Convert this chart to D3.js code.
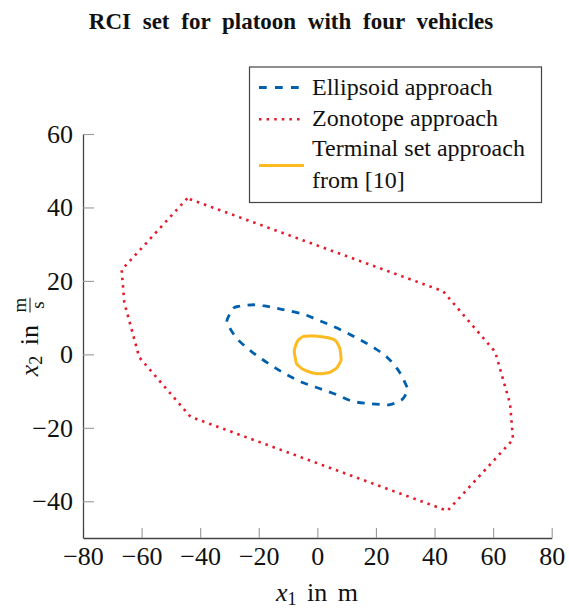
<!DOCTYPE html>
<html>
<head>
<meta charset="utf-8">
<script src="https://cdn.jsdelivr.net/npm/d3@7"></script>
<style>
body { margin: 0; background: #fff; }
</style>
</head>
<body>
<svg id="chart"></svg>
<script>
// values, in (x1 [m], x2 [m/s])
var xTicks = [-80, -60, -40, -20, 0, 20, 40, 60, 80];
var yTicks = [-40, -20, 0, 20, 40, 60];

var zonotopeSet = [
  [-44.4, 42.5], [-66.8, 23.0], [-65.9, 14.1], [-60.8, -0.8], [-43.3, -17.0],
  [44.4, -42.6], [66.8, -23.2], [65.8, -13.5], [60.7, 0.7], [42.9, 17.2]
];

var ellipsoidSet = [
  [-30.9, 9.1], [-28.7, 12.5], [-26.6, 13.1], [-24.1, 13.4], [-21.3, 13.5],
  [-18.7, 13.3], [-16.2, 12.9], [-13.7, 12.5], [-10.3, 12.0], [-5.0, 11.0],
  [-0.2, 9.5], [4.6, 7.9], [9.5, 6.1], [14.3, 4.1], [19.1, 1.9],
  [23.7, -0.7], [27.6, -4.3], [30.2, -8.2], [30.7, -9.8], [29.3, -12.0],
  [27.6, -12.9], [24.8, -13.7], [22.8, -13.7], [17.4, -13.4], [11.7, -12.7],
  [6.0, -10.8], [0.7, -9.3], [-4.6, -7.8], [-9.6, -5.9], [-14.1, -3.8],
  [-18.7, -1.4], [-23.0, 1.1], [-27.0, 3.9], [-28.9, 5.9], [-30.1, 7.5]
];

var terminalSet = [
  [-6.5, 3.9], [-4.8, 4.9], [-0.8, 5.0], [3.7, 4.5], [6.3, 3.7],
  [7.7, 1.6], [8.1, -1.6], [6.6, -3.7], [4.3, -4.9], [0.9, -5.3],
  [-1.9, -5.0], [-5.1, -4.0], [-7.1, -2.5], [-7.9, 0.7], [-7.4, 2.5]
];

var legendLabels = [["Ellipsoid approach"], ["Zonotope approach"], ["Terminal set approach", "from [10]"]];

var font = "Liberation Serif";

var drawChart = function()
{
  var screen = { width: 569, height: 612 };
  var plot = { left: 83, right: 551.7, top: 134, bottom: 538 };

  var colors = { ellipsoid: "#0060ad", zonotope: "#e41a2a", terminal: "#fdbb21" };

  var svg = d3.select("#chart")
              .attr("width", screen.width)
              .attr("height", screen.height);

  var xScale = d3.scaleLinear().domain([-80, 80]).range([plot.left, plot.right]);
  var yScale = d3.scaleLinear().domain([-50, 60]).range([plot.bottom, plot.top]);

  // title
  svg.append("text")
     .attr("x", 291)
     .attr("y", 29)
     .attr("text-anchor", "middle")
     .attr("font-size", 23)
     .attr("font-weight", "bold")
     .attr("word-spacing", 6)
     .text("RCI set for platoon with four vehicles");

  // axes (only left and bottom, ticks inward)
  var xAxis = d3.axisBottom(xScale).tickValues(xTicks).tickSize(-10).tickSizeOuter(0).tickPadding(9);
  var yAxis = d3.axisLeft(yScale).tickValues(yTicks).tickSize(-11).tickSizeOuter(0).tickPadding(10);

  var gx = svg.append("g")
     .attr("transform", "translate(0," + plot.bottom + ")")
     .call(xAxis);
  var gy = svg.append("g")
     .attr("transform", "translate(" + plot.left + ",0)")
     .call(yAxis);

  [gx, gy].forEach(function(g) {
    g.select(".domain").attr("stroke", "#444").attr("stroke-width", 1.3);
    g.selectAll(".tick line").attr("stroke", "#999").attr("stroke-width", 1.1);
    g.selectAll(".tick text")
     .attr("font-size", 26)
     .attr("fill", "#111");
  });

  // sets
  var line = d3.line()
               .x(function(d) { return xScale(d[0]); })
               .y(function(d) { return yScale(d[1]); });

  svg.append("path")
     .datum(zonotopeSet)
     .attr("d", line.curve(d3.curveLinearClosed))
     .attr("fill", "none")
     .attr("stroke", colors.zonotope)
     .attr("stroke-width", 2.6)
     .attr("stroke-dasharray", "2.5,5");

  svg.append("path")
     .datum(ellipsoidSet)
     .attr("d", line.curve(d3.curveCardinalClosed))
     .attr("fill", "none")
     .attr("stroke", colors.ellipsoid)
     .attr("stroke-width", 2.8)
     .attr("stroke-dasharray", "7.5,7.5");

  svg.append("path")
     .datum(terminalSet)
     .attr("d", line.curve(d3.curveCardinalClosed.tension(0.6)))
     .attr("fill", "none")
     .attr("stroke", colors.terminal)
     .attr("stroke-width", 3)
     .attr("stroke-linejoin", "round");

  // legend
  var legend = svg.append("g");
  legend.append("rect")
        .attr("x", 249.5).attr("y", 67)
        .attr("width", 292).attr("height", 135.5)
        .attr("fill", "#fff")
        .attr("stroke", "#444")
        .attr("stroke-width", 1.2);

  var sampleStyle = [
    { color: colors.ellipsoid, dash: "7.7,8.3", width: 3, y: 87.5 },
    { color: colors.zonotope, dash: "2.5,5.1", width: 2.6, y: 119.3 },
    { color: colors.terminal, dash: null, width: 3.2, y: 165.5 }
  ];
  var baselines = [[94.5], [125.5], [156, 188]];

  legendLabels.forEach(function(lines, i) {
    var s = sampleStyle[i];
    legend.append("line")
          .attr("x1", 259).attr("x2", 304)
          .attr("y1", s.y).attr("y2", s.y)
          .attr("stroke", s.color)
          .attr("stroke-width", s.width)
          .attr("stroke-dasharray", s.dash);
    lines.forEach(function(t, j) {
      legend.append("text")
            .attr("x", 312)
            .attr("y", baselines[i][j])
            .attr("font-size", 24)
            .text(t);
    });
  });

  // axis labels
  var mathLabel = function(g, sub, unit, frac)
  {
    var t = g.append("text").attr("font-size", 26).attr("y", 0)
             .attr("word-spacing", 4).style("white-space", "pre");
    t.append("tspan").attr("font-style", "italic").text("x");
    t.append("tspan").attr("font-size", 18).attr("dy", 4).text(sub);
    t.append("tspan").attr("dy", -4).text(" in " + unit);
    var w = t.node().getComputedTextLength();
    if (frac)
    {
      var fx = w + 2;
      var num = g.append("text").attr("font-size", 19).attr("x", fx).attr("y", -12).text(frac[0]);
      var fw = num.node().getComputedTextLength();
      g.append("line")
       .attr("x1", fx).attr("x2", fx + fw)
       .attr("y1", -8).attr("y2", -8)
       .attr("stroke", "#111").attr("stroke-width", 1);
      var den = g.append("text").attr("font-size", 19).attr("x", fx).attr("y", 6).text(frac[1]);
      den.attr("x", fx + (fw - den.node().getComputedTextLength()) / 2);
      w = fx + fw;
    }
    g.selectAll("text, line").attr("transform", "translate(" + (-w / 2) + ",0)");
  };

  var xl = svg.append("g").attr("transform", "translate(317,601)");
  mathLabel(xl, "1", "m", null);

  var yl = svg.append("g").attr("transform", "translate(38,337) rotate(-90)");
  mathLabel(yl, "2", "", ["m", "s"]);

  svg.selectAll("text").style("font-family", font).attr("fill", "#111");
}

drawChart();
</script>
</body>
</html>
